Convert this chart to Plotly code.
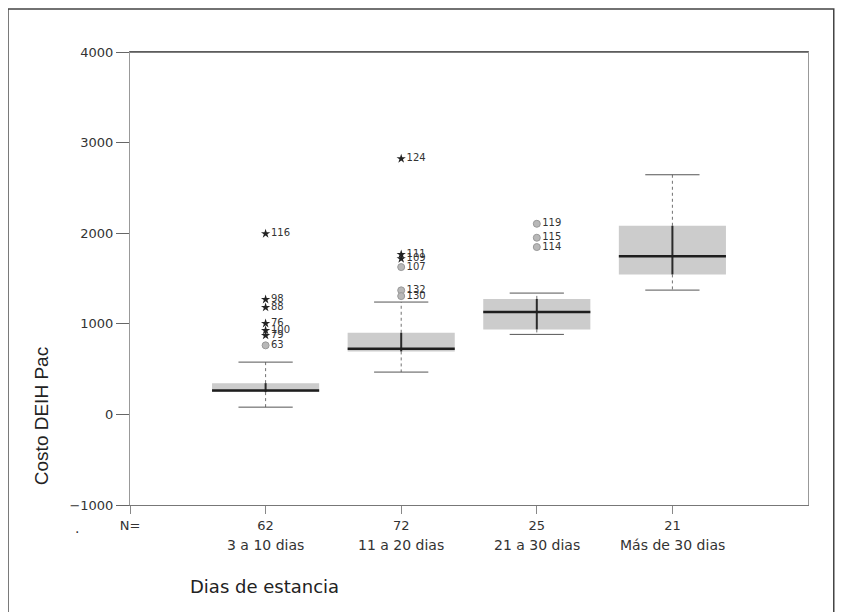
import plotly.graph_objects as go

# ---- data ----
categories = ["3 a 10 dias", "11 a 20 dias", "21 a 30 dias", "Más de 30 dias"]
n_counts = [62, 72, 25, 21]
positions = [1, 2, 3, 4]
lower_whisker = [80, 467, 883, 1372]
q1 = [246, 695, 938, 1545]
median = [265, 725, 1130, 1746]
q3 = [345, 901, 1275, 2082]
upper_whisker = [577, 1240, 1339, 2645]

# outliers: group position, value, case id, extreme (star) or not (circle)
out_group = [1, 1, 1, 1, 1, 1, 1, 2, 2, 2, 2, 2, 2, 3, 3, 3]
out_value = [1994, 1269, 1181, 1004, 927, 872, 762, 2822, 1766, 1718, 1626, 1369, 1306, 2104, 1950, 1847]
out_label = ["116", "98", "88", "76", "100", "79", "63", "124", "111", "109", "107", "132", "130", "119", "115", "114"]
out_extreme = [True, True, True, True, True, True, False, True, True, True, False, False, False, False, False, False]

y_ticks = [-1000, 0, 1000, 2000, 3000, 4000]

BOX_W = 0.79
CAP_W = 0.40
FONT = "DejaVu Sans, sans-serif"
FONT_T = "Liberation Sans, Arial, sans-serif"

fig = go.Figure()

# box bodies
for p, a, m, b in zip(positions, q1, median, q3):
    fig.add_trace(go.Box(
        x=[p], q1=[a], median=[m], q3=[b], lowerfence=[a], upperfence=[b],
        width=BOX_W, fillcolor="#cccccc", line=dict(width=0, color="#cccccc"),
        whiskerwidth=0, boxpoints=False, hoverinfo="skip", showlegend=False))

for p, lo, a, m, b, hi in zip(positions, lower_whisker, q1, median, q3, upper_whisker):
    # dotted whiskers
    fig.add_trace(go.Scatter(x=[p, p, None, p, p], y=[b, hi, None, a, lo], mode="lines",
                             line=dict(color="#707070", width=1, dash="dot"),
                             showlegend=False, hoverinfo="skip"))
    # caps
    fig.add_trace(go.Scatter(x=[p - CAP_W / 2, p + CAP_W / 2, None, p - CAP_W / 2, p + CAP_W / 2],
                             y=[hi, hi, None, lo, lo], mode="lines",
                             line=dict(color="#555555", width=1),
                             showlegend=False, hoverinfo="skip"))
    # vertical line inside box
    fig.add_trace(go.Scatter(x=[p, p], y=[a, b], mode="lines",
                             line=dict(color="#2a2a2a", width=2),
                             showlegend=False, hoverinfo="skip"))
    # median
    fig.add_trace(go.Scatter(x=[p - BOX_W / 2, p + BOX_W / 2], y=[m, m], mode="lines",
                             line=dict(color="#1e1e1e", width=2.5),
                             showlegend=False, hoverinfo="skip"))

# outliers
ex_x = [g for g, e in zip(out_group, out_extreme) if e]
ex_y = [v for v, e in zip(out_value, out_extreme) if e]
ex_t = [t for t, e in zip(out_label, out_extreme) if e]
ci_x = [g for g, e in zip(out_group, out_extreme) if not e]
ci_y = [v for v, e in zip(out_value, out_extreme) if not e]
ci_t = [t for t, e in zip(out_label, out_extreme) if not e]

fig.add_trace(go.Scatter(x=ex_x, y=ex_y, mode="markers+text", text=ex_t,
                         textposition="middle right",
                         textfont=dict(family=FONT, size=10, color="#333333"),
                         marker=dict(symbol="star", size=7, color="#222222"),
                         showlegend=False, hoverinfo="skip"))
fig.add_trace(go.Scatter(x=ci_x, y=ci_y, mode="markers+text", text=ci_t,
                         textposition="middle right",
                         textfont=dict(family=FONT, size=10, color="#333333"),
                         marker=dict(symbol="circle", size=7, color="#b8b8b8",
                                     line=dict(color="#999999", width=1)),
                         showlegend=False, hoverinfo="skip"))

# category names under the N row
for p, c in zip(positions, categories):
    fig.add_annotation(x=p, y=-0.088, xref="x", yref="paper", text=c, showarrow=False,
                       xanchor="center", yanchor="middle",
                       font=dict(family=FONT, size=14, color="#333333"))

# axis titles
fig.add_annotation(x=-0.1305, y=0.195, xref="paper", yref="paper", text="Costo DEIH Pac",
                   textangle=-90, showarrow=False, xanchor="center", yanchor="middle",
                   font=dict(family=FONT_T, size=19, color="#222222"))
fig.add_annotation(x=0.0855, y=-0.179, xref="paper", yref="paper", text="Dias de estancia",
                   xanchor="left", yanchor="middle", showarrow=False,
                   font=dict(family=FONT, size=18, color="#222222"))
fig.add_annotation(x=-0.078, y=-0.051, xref="paper", yref="paper", text=".",
                   xanchor="center", yanchor="middle",
                   showarrow=False, font=dict(family=FONT, size=14, color="#333333"))

# outer frame (bottom edge runs past the image)
fig.add_shape(type="rect", xref="paper", yref="paper", x0=-0.18, x1=1.038, y0=-0.35, y1=1.095,
              line=dict(color="#444444", width=1.5), layer="below")
# darker top edge of the plot frame
fig.add_shape(type="line", xref="paper", yref="paper", x0=0, x1=1, y0=1, y1=1,
              line=dict(color="#555555", width=1.5))

fig.update_layout(
    width=836, height=604,
    margin=dict(l=122, r=36, t=44, b=107),
    paper_bgcolor="white", plot_bgcolor="white",
    font=dict(family=FONT, color="#333333"),
    xaxis=dict(range=[0, 5], tickmode="array", tickvals=[0] + positions,
               ticktext=["N="] + [str(n) for n in n_counts],
               ticks="outside", ticklen=8, tickcolor="#888888",
               showline=True, linecolor="#777777", linewidth=1, mirror=True,
               showgrid=False, zeroline=False,
               tickfont=dict(family=FONT, size=13, color="#333333")),
    yaxis=dict(range=[-1000, 4000], tickvals=y_ticks,
               ticks="outside", ticklen=13, tickcolor="#666666",
               showline=True, linecolor="#999999", linewidth=1, mirror=True,
               showgrid=False, zeroline=False,
               tickfont=dict(family=FONT, size=13, color="#333333")),
)

fig.write_html("out.html")
